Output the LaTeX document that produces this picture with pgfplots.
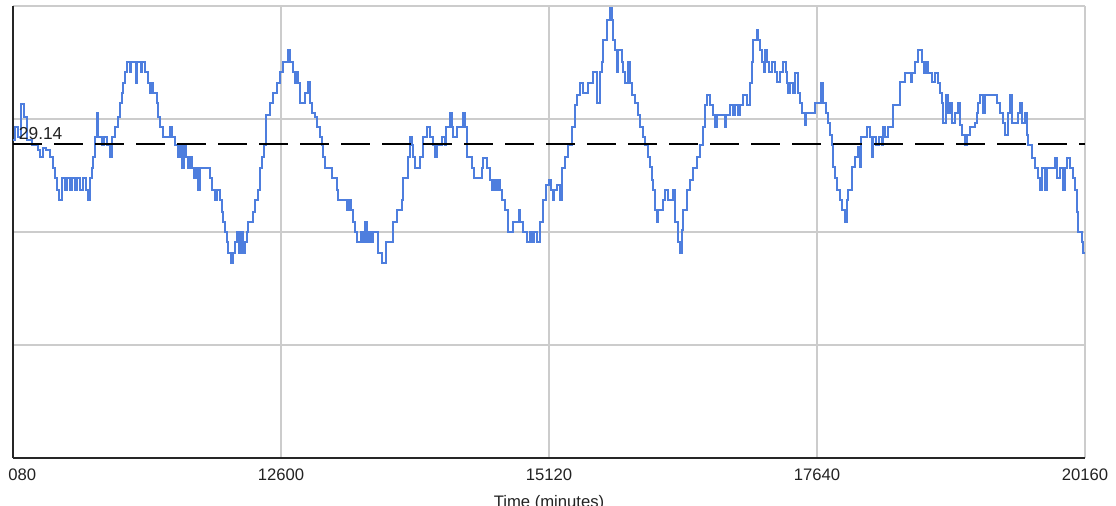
\documentclass[border=0pt]{standalone}
\usepackage{pgfplots}
\pgfplotsset{compat=1.18}
\usepackage{fontspec}
\setmainfont{Liberation Sans}
\definecolor{series}{RGB}{78,126,222}
\definecolor{gridgray}{RGB}{204,204,204}
\definecolor{labelgray}{RGB}{34,34,34}

% queue level over time, step samples (minutes, level)
\pgfplotstableread{
t v
10080 29.55
10099 30.76
10127 29.83
10155 32.90
10183 31.69
10212 29.55
10259 29.09
10315 28.62
10334 27.97
10362 28.81
10390 28.62
10428 27.97
10456 26.95
10475 26.02
10494 24.91
10513 23.98
10541 26.02
10569 24.91
10588 26.02
10616 24.91
10635 26.02
10663 24.91
10682 26.02
10710 24.91
10738 26.02
10766 24.91
10785 23.98
10804 26.02
10823 26.95
10832 27.97
10851 29.83
10870 32.06
10879 29.83
10917 29.09
10936 29.83
10964 29.09
10992 27.97
11011 29.83
11039 30.76
11067 31.69
11086 32.99
11105 33.92
11114 34.85
11133 35.87
11152 36.80
11180 35.87
11190 36.80
11237 34.85
11246 36.80
11284 35.87
11293 36.80
11321 35.87
11349 34.85
11368 33.92
11387 34.85
11396 33.92
11434 32.99
11443 31.69
11462 30.76
11490 29.83
11556 30.76
11575 29.83
11603 29.09
11632 27.97
11650 29.09
11669 26.95
11688 29.09
11707 27.97
11726 26.95
11744 27.97
11763 26.95
11782 26.02
11801 26.95
11820 24.91
11838 26.95
11932 26.02
11951 24.91
11979 23.98
11998 24.91
12026 23.98
12045 22.86
12055 21.93
12073 21.00
12092 20.07
12102 19.05
12130 18.12
12149 19.05
12167 20.07
12186 21.00
12205 19.05
12224 21.00
12243 19.05
12261 20.07
12280 21.00
12290 21.93
12337 22.86
12356 23.98
12384 24.91
12403 26.95
12421 27.97
12440 29.09
12459 31.88
12497 32.99
12525 33.92
12562 34.85
12591 35.87
12619 36.80
12666 37.92
12685 36.80
12713 35.87
12732 34.85
12741 35.87
12760 34.85
12779 32.99
12826 33.92
12854 34.94
12873 32.99
12892 32.06
12920 31.69
12939 30.76
12967 29.83
12986 29.09
12995 27.97
13014 26.95
13080 26.02
13127 24.91
13136 23.98
13221 23.05
13239 23.98
13258 23.05
13277 21.93
13296 21.00
13315 20.07
13352 21.00
13371 20.07
13390 21.93
13409 20.07
13428 21.00
13446 20.07
13465 21.00
13512 19.05
13550 18.12
13587 20.07
13653 21.93
13691 23.05
13738 23.98
13747 26.02
13794 27.97
13813 29.83
13832 29.09
13841 27.97
13860 26.95
13907 27.97
13935 29.83
13973 30.76
14001 29.83
14029 29.09
14048 27.97
14067 29.09
14114 29.83
14142 29.09
14152 30.76
14189 32.06
14208 30.76
14217 29.83
14255 30.76
14311 32.06
14330 30.76
14349 27.97
14396 26.95
14415 26.02
14490 26.95
14499 27.88
14537 26.95
14565 25.84
14584 24.91
14603 25.84
14622 24.91
14640 25.84
14659 24.91
14678 23.98
14706 23.05
14735 21.00
14782 21.93
14838 23.05
14847 21.93
14876 21.00
14913 20.07
14941 21.00
14960 20.07
14979 21.00
15007 20.07
15035 21.93
15064 23.98
15092 25.37
15120 25.84
15139 24.91
15158 23.98
15167 24.91
15195 25.37
15223 23.98
15242 26.95
15270 27.97
15299 29.09
15336 30.76
15365 32.81
15383 33.74
15412 34.85
15440 33.92
15487 34.85
15534 35.87
15571 32.99
15600 35.87
15618 36.80
15628 38.85
15665 40.71
15694 41.82
15712 40.71
15722 38.85
15741 37.92
15759 35.87
15769 37.92
15806 36.80
15816 35.87
15835 34.85
15863 36.80
15882 34.85
15900 33.74
15929 32.99
15957 31.88
15976 30.76
16004 29.83
16023 29.09
16051 27.97
16070 27.04
16089 25.84
16098 24.91
16117 23.05
16136 21.93
16145 23.05
16192 23.98
16211 24.91
16239 23.98
16286 24.91
16305 21.93
16333 20.07
16352 19.05
16371 21.19
16380 23.05
16418 24.91
16446 25.84
16474 26.95
16512 27.97
16540 29.09
16568 30.76
16587 32.81
16606 33.74
16634 32.81
16662 31.88
16681 30.76
16700 31.88
16775 30.76
16784 31.88
16822 32.81
16850 31.88
16869 32.81
16897 31.88
16916 32.81
16944 33.74
16982 32.81
17010 34.85
17029 36.80
17038 38.85
17076 39.78
17085 38.85
17104 37.92
17123 36.80
17142 35.87
17151 37.92
17170 36.80
17189 35.87
17217 36.80
17245 35.87
17264 34.94
17292 35.87
17320 36.80
17349 35.87
17358 34.85
17367 33.92
17386 34.85
17414 33.92
17433 35.78
17461 33.92
17480 32.99
17499 32.06
17527 30.95
17537 32.06
17621 32.99
17678 34.85
17696 32.99
17725 32.06
17743 31.13
17762 30.02
17781 29.09
17790 27.04
17809 26.02
17828 24.91
17856 23.98
17875 23.05
17903 21.93
17922 23.98
17931 24.91
17969 27.04
17997 27.97
18026 28.90
18044 27.04
18054 29.83
18110 30.76
18138 29.83
18157 27.97
18167 29.83
18195 29.09
18223 29.83
18251 29.09
18261 30.76
18279 29.83
18308 30.76
18355 32.81
18420 34.94
18468 35.78
18524 34.94
18533 35.78
18562 36.80
18590 37.92
18627 36.80
18646 35.78
18665 36.80
18684 35.78
18721 34.94
18750 35.78
18778 34.85
18797 33.92
18815 32.99
18825 31.13
18853 33.74
18872 32.06
18891 32.99
18909 31.13
18938 32.06
18966 32.99
18985 30.95
19003 30.02
19032 29.09
19050 30.02
19079 30.76
19126 31.13
19144 32.06
19154 32.99
19173 33.74
19201 32.06
19220 33.74
19333 32.99
19361 32.06
19389 31.13
19408 30.02
19436 32.06
19455 33.74
19474 31.13
19530 32.06
19549 32.99
19568 31.13
19596 32.06
19615 30.02
19624 29.09
19662 27.88
19690 26.95
19718 26.02
19737 24.91
19756 26.95
19784 24.91
19803 26.95
19878 27.88
19897 26.02
19925 26.95
19953 24.91
19972 26.95
19991 27.88
20019 26.95
20047 26.02
20066 24.91
20085 22.86
20094 21.00
20132 20.07
20141 19.05
20160 19.05
}\queuedata

\begin{document}
\begin{tikzpicture}[x=1pt,y=1pt]
\path[use as bounding box] (-9.75,-36) rectangle (827.25,343.5);
\clip (-3.75,-36) rectangle (827.25,343.5);
\begin{axis}[
  at={(0,0)}, anchor=south west,
  width=804pt, height=339pt, scale only axis,
  xmin=10080, xmax=20160, ymin=0, ymax=42,
  axis x line*=bottom, axis y line*=left,
  axis line style={-, draw=black!85, line width=1.5pt},
  xtick={10080,12600,15120,17640,20160},
  xticklabels={10080,12600,15120,17640,20160},
  scaled x ticks=false,
  ytick={0,10.5,21,31.5,42}, yticklabels={},
  grid=major,
  major grid style={draw=gridgray, line width=1pt},
  major tick length=0pt,
  xticklabel style={font=\fontsize{12.5}{15}\selectfont, text=labelgray, yshift=-4.5pt},
  xlabel={Time (minutes)},
  xlabel style={font=\fontsize{12.5}{15}\selectfont, text=labelgray, yshift=-4.5pt},
  clip=true,
]
\addplot[const plot, draw=series, line width=1.2pt] table[x=t, y=v] {\queuedata};
\addplot[draw=black, line width=1.5pt, dash pattern=on 21.75pt off 9pt]
  coordinates {(10080,29.14) (20160,29.14)}
  node[pos=0, anchor=base west, inner sep=0pt, xshift=3.75pt, yshift=3.75pt,
       font=\fontsize{13}{15}\selectfont, text=labelgray] {29.14};
\end{axis}
\end{tikzpicture}
\end{document}
